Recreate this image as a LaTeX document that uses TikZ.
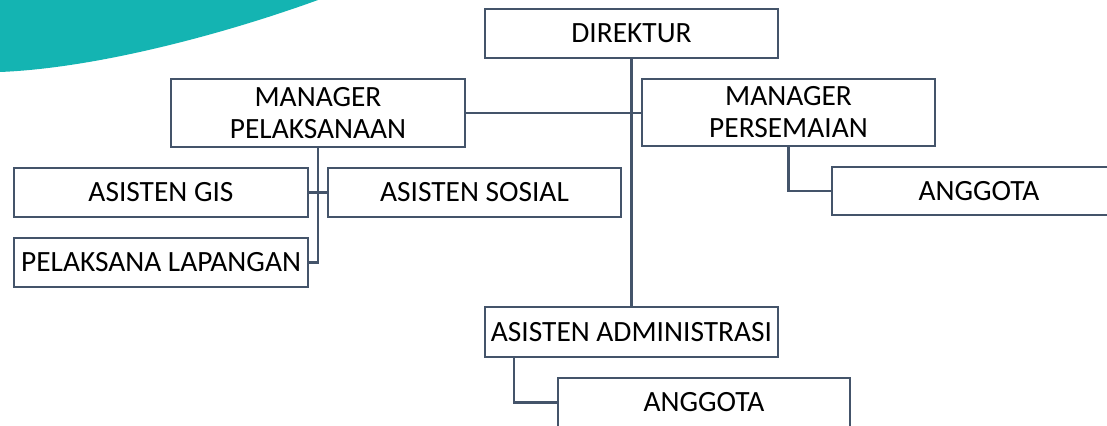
\documentclass[tikz,border=0pt]{standalone}
\usepackage{fontspec}
\setmainfont{Carlito}
\usetikzlibrary{calc}
\definecolor{linec}{HTML}{44546A}
\definecolor{tealc}{RGB}{20,180,178}
\tikzset{
  orgbox/.style={draw=linec, line width=1.1pt, fill=white, inner sep=0pt, align=center,
    font=\fontsize{14.7}{16}\selectfont},
  conn/.style={draw=linec, line width=1.1pt}
}
\begin{document}
\begin{tikzpicture}[x=0.5pt,y=-0.5pt]
\clip (0,0) rectangle (1107,426);
\fill[white] (0,0) rectangle (1107,426);
\fill[tealc] (0,0) -- (318,0) .. controls (230,32) and (100,68) .. (0,72) -- cycle;

\node[orgbox, minimum width=146.5pt, minimum height=24.5pt] (dir) at (631.5,33.5) {DIREKTUR};
\node[orgbox, minimum width=147pt, minimum height=34pt] (mp) at (318,113) {MANAGER\\PELAKSANAAN};
\node[orgbox, minimum width=146.5pt, minimum height=33.5pt] (mps) at (788.5,112.5) {MANAGER\\PERSEMAIAN};
\node[orgbox, minimum width=147pt, minimum height=24.5pt] (gis) at (161,192.5) {ASISTEN GIS};
\node[orgbox, minimum width=146.5pt, minimum height=24.5pt] (sos) at (474.5,192.5) {ASISTEN SOSIAL};
\node[orgbox, minimum width=147pt, minimum height=24.5pt] (pl) at (161,262.5) {PELAKSANA LAPANGAN};
\node[orgbox, minimum width=147pt, minimum height=24pt] (ang1) at (979,191) {ANGGOTA};
\node[orgbox, minimum width=146.5pt, minimum height=25pt] (aa) at (631.5,332) {ASISTEN ADMINISTRASI};
\node[orgbox, minimum width=146pt, minimum height=24.5pt] (ang2) at (704,402.5) {ANGGOTA};

\draw[conn] (dir.south) -- (aa.north);
\draw[conn] (mp.east) -- (mp.east -| mps.west);
\draw[conn] (mp.south) |- (pl.east);
\draw[conn] (gis.east) -- (sos.west);
\draw[conn] (mps.south) |- (ang1.west);
\draw[conn] ($(aa.south west)+(30,0)$) |- (ang2.west);
\end{tikzpicture}
\end{document}
